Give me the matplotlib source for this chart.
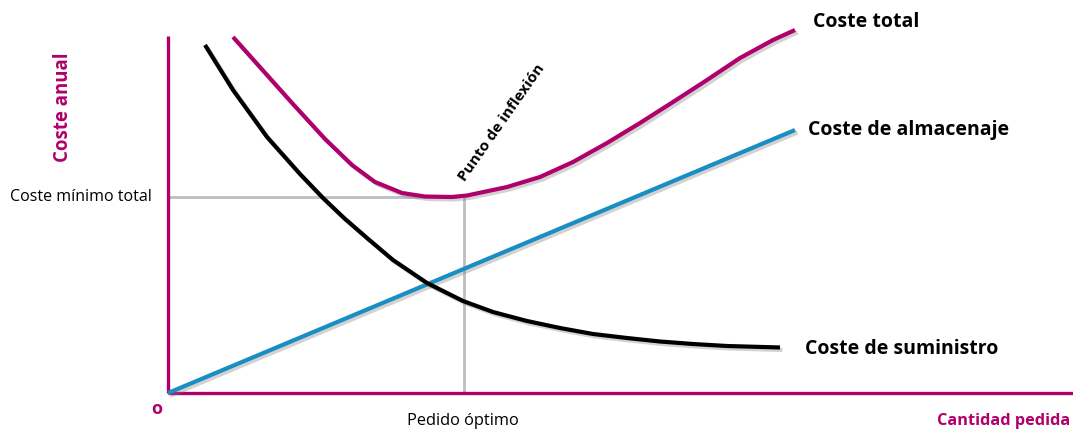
import matplotlib
matplotlib.use("Agg")
import matplotlib.pyplot as plt
import matplotlib.patheffects as pe

# Curve samples (x = quantity ordered, y = annual cost), arbitrary units
total_x = [65, 90, 124, 157, 184, 207, 234, 257, 284, 299, 339, 372, 405, 439, 472,
           505, 539, 572, 605, 627]
total_y = [356, 328, 290, 254, 228, 211, 200, 196.5, 196, 197.5, 206, 216, 231, 250, 270,
           291, 313, 335, 353, 363]

supply_x = [37, 65, 99, 132, 155, 176, 199, 225, 259, 295, 325, 359, 392, 425, 459,
            492, 525, 559, 612]
supply_y = [348, 303, 256, 219, 195, 175, 155, 133, 110, 92, 81, 72, 65, 59, 55,
            51.5, 49, 47, 45.5]

storage_x = [0, 627]
storage_y = [0, 263]

opt_q = 296
min_cost = 196

MAGENTA = "#b0006b"
BLUE = "#1a8ec2"
GRAY = "#bdbdc2"
FONT = "Open Sans"

fig = plt.figure(figsize=(10.73, 4.29), dpi=100)
ax = fig.add_axes([168 / 1073, 36 / 429, 905 / 1073, 357 / 429])
ax.set_xlim(0, 905)
ax.set_ylim(0, 357)

for side in ("top", "right"):
    ax.spines[side].set_visible(False)
for side in ("left", "bottom"):
    ax.spines[side].set_color(MAGENTA)
    ax.spines[side].set_linewidth(2.4)
    ax.spines[side].set_capstyle("butt")
ax.set_xticks([])
ax.set_yticks([])

shadow = [pe.SimpleLineShadow(offset=(1.8, -1.8), shadow_color="#808080", alpha=0.35),
          pe.Normal()]

# Reference lines for the optimum
ax.plot([0, opt_q - 7], [min_cost, min_cost], color=GRAY, lw=2.0, solid_capstyle="butt", zorder=2)
ax.plot([opt_q, opt_q], [0, min_cost], color=GRAY, lw=2.0, solid_capstyle="butt", zorder=2)

ax.plot(storage_x, storage_y, color=BLUE, lw=3.0, solid_capstyle="butt",
        path_effects=shadow, zorder=3, clip_on=False)
ax.plot(supply_x, supply_y, color="black", lw=3.0, solid_capstyle="butt",
        solid_joinstyle="round", path_effects=shadow, zorder=3, clip_on=False)
ax.plot(total_x, total_y, color=MAGENTA, lw=3.0, solid_capstyle="butt",
        solid_joinstyle="round", path_effects=shadow, zorder=4, clip_on=False)

bold = dict(family=FONT, fontweight="bold", clip_on=False)
ax.text(645, 371, "Coste total", fontsize=14, va="center", ha="left", **bold)
ax.text(640, 263, "Coste de almacenaje", fontsize=14, va="center", ha="left", **bold)
ax.text(637, 44, "Coste de suministro", fontsize=14, va="center", ha="left", **bold)
ax.text(334, 270, "Punto de inflexión", fontsize=11, rotation=55,
        va="center", ha="center", rotation_mode="anchor", **bold)

ax.text(-16, min_cost, "Coste mínimo total", fontsize=11.5, family=FONT,
        va="center", ha="right", clip_on=False)
ax.text(opt_q - 1, -28, "Pedido óptimo", fontsize=11.8, family=FONT,
        va="center", ha="center", clip_on=False)

ax.text(902, -28, "Cantidad pedida", fontsize=11.7, color=MAGENTA,
        va="center", ha="right", **bold)
ax.text(-105, 286, "Coste anual", fontsize=13.4, color=MAGENTA, rotation=90,
        va="center", ha="center", **bold)
ax.text(-11, -16, "o", fontsize=13, color=MAGENTA, va="center", ha="center", **bold)

fig.savefig("out.png", dpi=100)
